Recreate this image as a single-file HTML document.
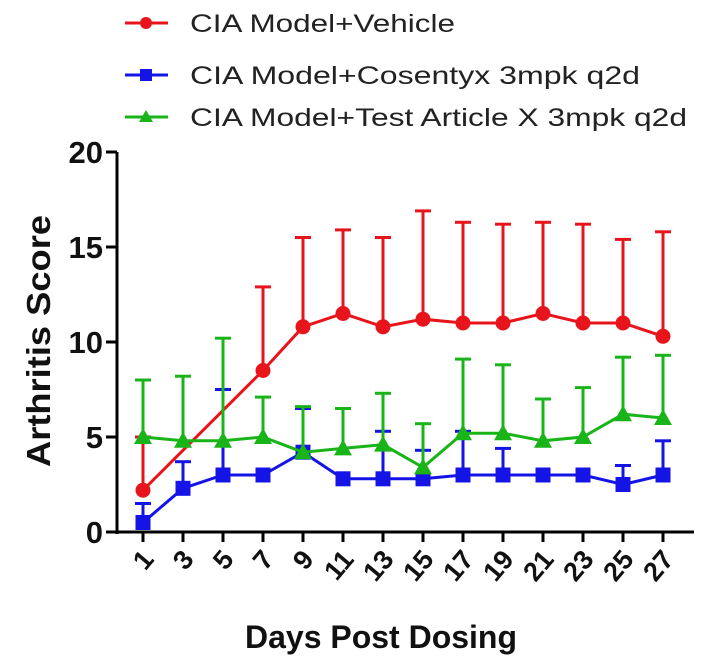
<!DOCTYPE html>
<html><head><style>body{margin:0;background:#fff}svg{display:block}</style></head>
<body>
<svg id="s" width="714" height="669" xmlns="http://www.w3.org/2000/svg" font-family="Liberation Sans, Arial, sans-serif">
<g stroke-width="3">
<line x1="125" y1="23" x2="168" y2="23" stroke="#e8141c"/><circle cx="146" cy="23" r="6" fill="#e8141c"/>
<line x1="125" y1="75" x2="168" y2="75" stroke="#1414e6"/><rect x="140" y="69" width="12" height="12" fill="#1414e6"/>
<line x1="125" y1="117" x2="168" y2="117" stroke="#18b418"/><polygon points="146,110 153,122 139,122" fill="#18b418"/>
</g>
<g font-size="25" fill="#222">
<text x="190" y="32" textLength="265" lengthAdjust="spacingAndGlyphs">CIA Model+Vehicle</text>
<text x="190" y="84" textLength="450" lengthAdjust="spacingAndGlyphs">CIA Model+Cosentyx 3mpk q2d</text>
<text x="190" y="126" textLength="497" lengthAdjust="spacingAndGlyphs">CIA Model+Test Article X 3mpk q2d</text>
</g>
<g id="g"></g>
<text transform="translate(50,341) rotate(-90)" text-anchor="middle" font-size="33" font-weight="bold" fill="#111" textLength="252" lengthAdjust="spacingAndGlyphs">Arthritis Score</text>
<text x="381" y="648" text-anchor="middle" font-size="32" font-weight="bold" fill="#111" textLength="272" lengthAdjust="spacingAndGlyphs">Days Post Dosing</text>
</svg>
<script>
var g=document.getElementById('g'),h='';
function X(d){return 143+20*(d-1)}function Y(v){return 532-19*v}
h+='<line x1="117" y1="152" x2="117" y2="534" stroke="#000" stroke-width="3"/>';
h+='<line x1="106" y1="532" x2="694" y2="532" stroke="#000" stroke-width="3"/>';
for(var v=0;v<=20;v+=5){h+='<line x1="106" y1="'+Y(v)+'" x2="117" y2="'+Y(v)+'" stroke="#000" stroke-width="3"/>';
h+='<text x="103" y="'+(Y(v)+11)+'" text-anchor="end" font-size="31" font-weight="bold" fill="#111">'+v+'</text>';}
for(var d=1;d<=27;d+=2){h+='<line x1="'+X(d)+'" y1="532" x2="'+X(d)+'" y2="542" stroke="#000" stroke-width="3"/>';
h+='<text transform="translate('+(X(d)+12)+',560) rotate(-50)" text-anchor="end" font-size="27" font-weight="bold" fill="#111">'+d+'</text>';}
var days=[1,3,5,7,9,11,13,15,17,19,21,23,25,27];
var red={d:[1,7,9,11,13,15,17,19,21,23,25,27],v:[2.2,8.5,10.8,11.5,10.8,11.2,11,11,11.5,11,11,10.3],e:[5,12.9,15.5,15.9,15.5,16.9,16.3,16.2,16.3,16.2,15.4,15.8]};
var blue={d:days,v:[0.5,2.3,3,3,4.2,2.8,2.8,2.8,3,3,3,3,2.5,3],e:[1.5,3.7,7.5,3,6.5,2.8,5.3,4.3,5.3,4.4,3,3,3.5,4.8]};
var green={d:days,v:[5,4.8,4.8,5,4.2,4.4,4.6,3.4,5.2,5.2,4.8,5,6.2,6],e:[8,8.2,10.2,7.1,6.6,6.5,7.3,5.7,9.1,8.8,7,7.6,9.2,9.3]};
function series(s,c,m){var p='';
for(var i=0;i<s.d.length;i++){var x=X(s.d[i]);
if(s.e[i]>s.v[i]){
h+='<line x1="'+x+'" y1="'+Y(s.v[i])+'" x2="'+x+'" y2="'+Y(s.e[i])+'" stroke="'+c+'" stroke-width="3"/>';
h+='<line x1="'+(x-8)+'" y1="'+Y(s.e[i])+'" x2="'+(x+8)+'" y2="'+Y(s.e[i])+'" stroke="'+c+'" stroke-width="3"/>';}
p+=x+','+Y(s.v[i])+' ';}
h+='<polyline points="'+p+'" fill="none" stroke="'+c+'" stroke-width="3"/>';
for(var i=0;i<s.d.length;i++){var x=X(s.d[i]),y=Y(s.v[i]);
if(m=='c')h+='<circle cx="'+x+'" cy="'+y+'" r="7.5" fill="'+c+'"/>';
if(m=='s')h+='<rect x="'+(x-7.5)+'" y="'+(y-7.5)+'" width="15" height="15" fill="'+c+'"/>';
if(m=='t')h+='<polygon points="'+x+','+(y-9)+' '+(x+9)+','+(y+7)+' '+(x-9)+','+(y+7)+'" fill="'+c+'"/>';}}
series(blue,'#1414e6','s');series(red,'#e8141c','c');series(green,'#18b418','t');
g.innerHTML=h;
</script>
</body></html>
